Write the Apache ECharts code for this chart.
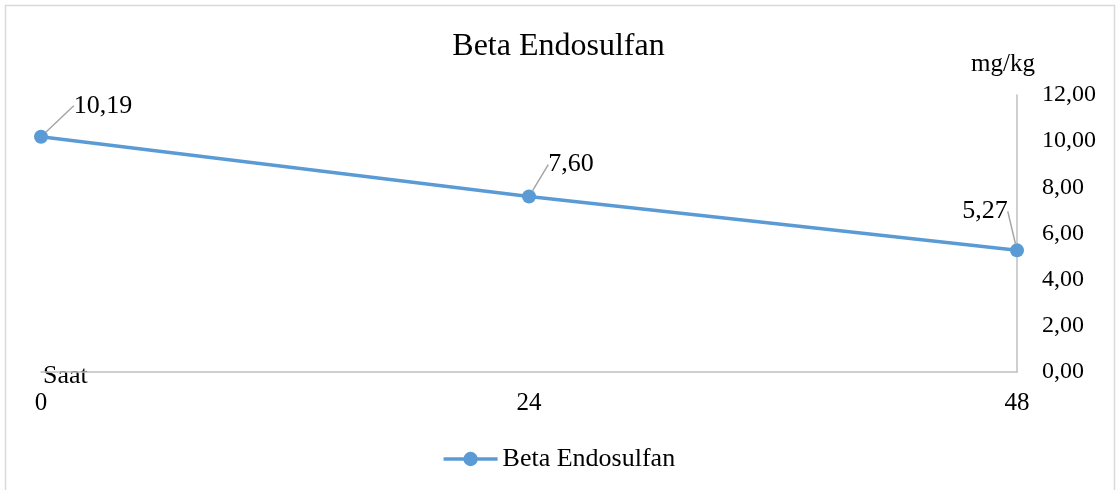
<!DOCTYPE html>
<html>
<head>
<meta charset="utf-8">
<script src="https://cdn.jsdelivr.net/npm/echarts@6/dist/echarts.min.js"></script>
<style>html,body{margin:0;padding:0;background:#fff;}#c{width:1117px;height:490px;}</style>
</head>
<body>
<div id="c"></div>
<script>
const categories = ['0', '24', '48'];
const values = [10.19, 7.60, 5.27];
const seriesName = 'Beta Endosulfan';
const labelOffsets = [[62, -31], [42, -32], [-32, -39]];

const FONT = '"Liberation Serif", "Times New Roman", serif';
const fmt = v => v.toFixed(2).replace('.', ',');

const chart = echarts.init(document.getElementById('c'));
chart.setOption({
  animation: false,
  title: {
    text: 'Beta Endosulfan', left: 'center', top: 26,
    textStyle: { fontFamily: FONT, fontSize: 32, fontWeight: 'normal', color: '#000' }
  },
  legend: {
    data: [seriesName], bottom: 13, left: 'center',
    itemWidth: 54, itemHeight: 18, itemGap: 6,
    lineStyle: { width: 3.5 },
    textStyle: { fontFamily: FONT, fontSize: 26, color: '#000' }
  },
  grid: { left: 41, right: 100, top: 95, bottom: 118, containLabel: false },
  xAxis: {
    type: 'category', data: categories, boundaryGap: false,
    axisLine: { lineStyle: { color: '#BFBFBF', width: 1.5 } },
    axisTick: { show: false },
    axisLabel: { fontFamily: FONT, fontSize: 25, color: '#000', margin: 19 }
  },
  yAxis: {
    type: 'value', position: 'right', min: 0, max: 12, interval: 2,
    axisLine: { show: true, lineStyle: { color: '#BFBFBF', width: 1.5 } },
    axisTick: { show: false },
    splitLine: { show: false },
    axisLabel: { fontFamily: FONT, fontSize: 24, color: '#000', margin: 25, formatter: v => fmt(v) }
  },
  graphic: [
    { type: 'rect', shape: { x: 5.5, y: 5.5, width: 1109, height: 500 }, style: { fill: 'none', stroke: '#D9D9D9', lineWidth: 1.5 }, silent: true, z: -1 },
    { type: 'text', left: 971, top: 52, style: { text: 'mg/kg', font: '25px ' + FONT, fill: '#000' } },
    { type: 'text', left: 43, top: 363, style: { text: 'Saat', font: '26px ' + FONT, fill: '#000' } }
  ],
  series: [{
    name: seriesName, type: 'line', data: values,
    symbol: 'circle', symbolSize: 14,
    lineStyle: { color: '#5B9BD5', width: 3.5 },
    itemStyle: { color: '#5B9BD5' },
    label: {
      show: true, position: 'inside', formatter: p => fmt(p.value),
      fontFamily: FONT, fontSize: 26, color: '#000'
    },
    labelLine: { show: true, lineStyle: { color: '#A6A6A6', width: 1.5 } },
    labelLayout: p => ({ dx: labelOffsets[p.dataIndex][0], dy: labelOffsets[p.dataIndex][1] })
  }]
});
</script>
</body>
</html>
